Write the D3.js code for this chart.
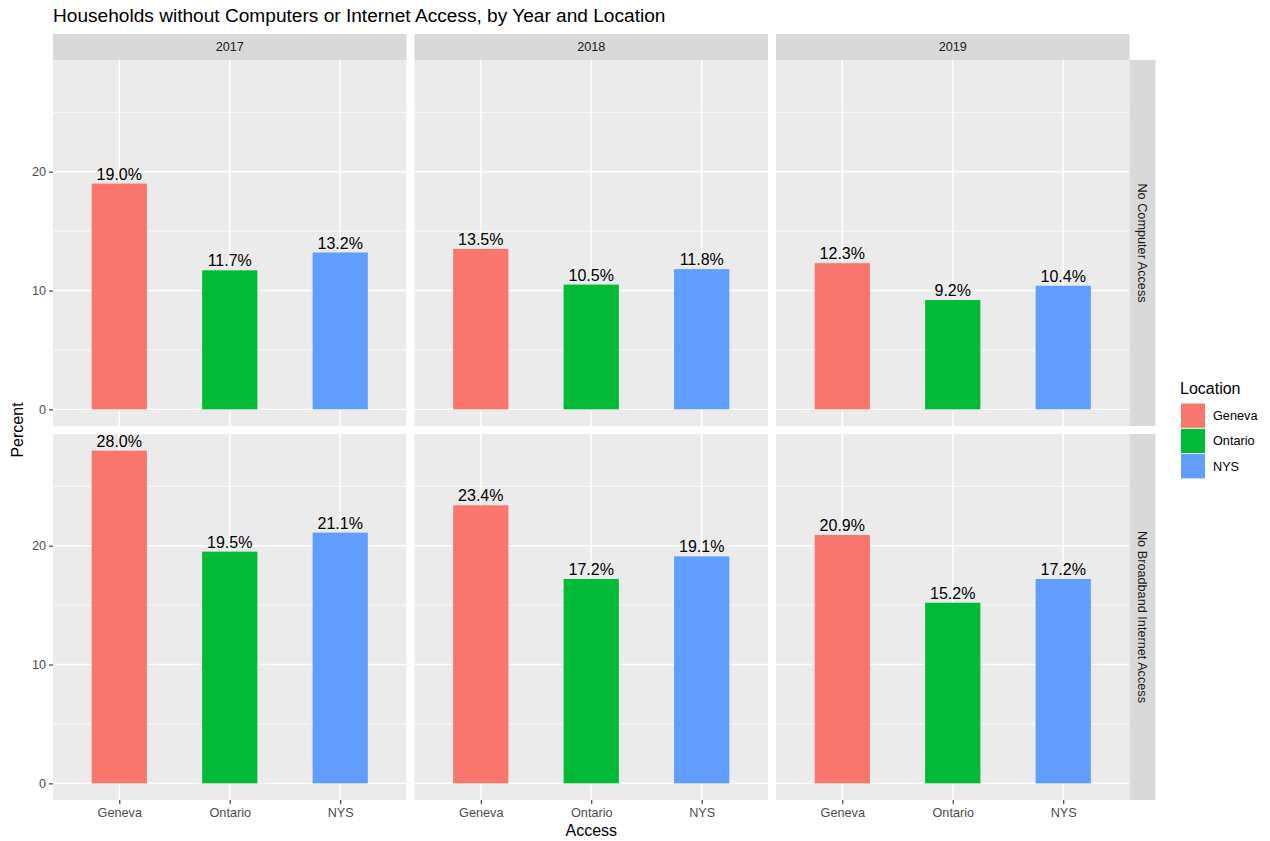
<!DOCTYPE html>
<html>
<head>
<meta charset="utf-8">
<script src="https://cdn.jsdelivr.net/npm/d3@7"></script>
<style>
  body { margin: 0; background: #fff; }
  text { font-family: "Liberation Sans", Arial, Helvetica, sans-serif; }
</style>
</head>
<body>
<script>
// chart data
var years = ["2017", "2018", "2019"];
var measures = ["No Computer Access", "No Broadband Internet Access"];
var locations = ["Geneva", "Ontario", "NYS"];
var colors = ["#F8766D", "#00BA38", "#619CFF"];

// one array per measure, one row per year, values in location order
var noComputer = [
  [19.0, 11.7, 13.2],
  [13.5, 10.5, 11.8],
  [12.3, 9.2, 10.4]
];
var noBroadband = [
  [28.0, 19.5, 21.1],
  [23.4, 17.2, 19.1],
  [20.9, 15.2, 17.2]
];
var yTicks = [0, 10, 20];
var yMinor = [5, 15, 25];

var valuesByMeasure = [noComputer, noBroadband];

var width = 1270, height = 841;
var plotLeft = 53, plotTop = 60;
var panelW = 353.5, panelH = 366, gap = 8, stripH = 26;
var smallFont = "12.7px", bigFont = "16px";

var svg = d3.select("body").append("svg")
    .attr("width", width)
    .attr("height", height);

// fixed scales shared by every panel, with ggplot's expansion
var yMax = 28.0;
var y = d3.scaleLinear()
    .domain([-0.05 * yMax, yMax * 1.05])
    .range([panelH, 0]);

var x = d3.scalePoint()
    .domain(locations)
    .range([0, panelW])
    .padding(0.6);

var barW = x.step() * 0.5;
var color = d3.scaleOrdinal().domain(locations).range(colors);

svg.append("text")
    .attr("x", plotLeft)
    .attr("y", 22)
    .style("font-size", "19.1px")
    .style("fill", "#000")
    .text("Households without Computers or Internet Access, by Year and Location");

measures.forEach(function(m, r) {
  years.forEach(function(yr, c) {
    var px = plotLeft + c * (panelW + gap);
    var py = plotTop + r * (panelH + gap);
    var g = svg.append("g").attr("transform", "translate(" + px + "," + py + ")");

    g.append("rect")
        .attr("width", panelW)
        .attr("height", panelH)
        .style("fill", "#EBEBEB");

    g.selectAll(".minor")
      .data(yMinor)
      .enter().append("line")
        .attr("x1", 0).attr("x2", panelW)
        .attr("y1", function(d) { return y(d); })
        .attr("y2", function(d) { return y(d); })
        .style("stroke", "#fff")
        .style("stroke-width", 0.7);

    g.selectAll(".major")
      .data(yTicks)
      .enter().append("line")
        .attr("x1", 0).attr("x2", panelW)
        .attr("y1", function(d) { return y(d); })
        .attr("y2", function(d) { return y(d); })
        .style("stroke", "#fff")
        .style("stroke-width", 1.4);

    g.selectAll(".vgrid")
      .data(locations)
      .enter().append("line")
        .attr("x1", function(d) { return x(d); })
        .attr("x2", function(d) { return x(d); })
        .attr("y1", 0).attr("y2", panelH)
        .style("stroke", "#fff")
        .style("stroke-width", 1.4);

    var vals = valuesByMeasure[r][c];

    g.selectAll(".bar")
      .data(vals)
      .enter().append("rect")
        .attr("x", function(d, i) { return x(locations[i]) - barW / 2; })
        .attr("y", function(d) { return y(d); })
        .attr("width", barW)
        .attr("height", function(d) { return y(0) - y(d); })
        .style("fill", function(d, i) { return color(locations[i]); });

    g.selectAll(".lbl")
      .data(vals)
      .enter().append("text")
        .attr("x", function(d, i) { return x(locations[i]); })
        .attr("y", function(d) { return y(d) - 4; })
        .attr("text-anchor", "middle")
        .style("font-size", bigFont)
        .style("fill", "#000")
        .text(function(d) { return d.toFixed(1) + "%"; });

    // top strips
    if (r == 0) {
      svg.append("rect")
          .attr("x", px).attr("y", plotTop - stripH)
          .attr("width", panelW).attr("height", stripH)
          .style("fill", "#D9D9D9");
      svg.append("text")
          .attr("x", px + panelW / 2)
          .attr("y", plotTop - stripH / 2)
          .attr("dy", "0.35em")
          .attr("text-anchor", "middle")
          .style("font-size", smallFont)
          .style("fill", "#1A1A1A")
          .text(yr);
    }

    // right strips
    if (c == years.length - 1) {
      svg.append("rect")
          .attr("x", px + panelW).attr("y", py)
          .attr("width", stripH).attr("height", panelH)
          .style("fill", "#D9D9D9");
      svg.append("text")
          .attr("transform", "translate(" + (px + panelW + stripH / 2) + "," + (py + panelH / 2) + ") rotate(90)")
          .attr("dy", "0.35em")
          .attr("text-anchor", "middle")
          .style("font-size", smallFont)
          .style("fill", "#1A1A1A")
          .text(m);
    }

    // y axis on first column
    if (c == 0) {
      var ya = svg.append("g")
          .attr("transform", "translate(" + px + "," + py + ")")
          .call(d3.axisLeft(y).tickValues(yTicks).tickSize(4).tickPadding(3));
      ya.select(".domain").remove();
      ya.selectAll("line").style("stroke", "#333").style("stroke-width", 1.1);
      ya.selectAll("text").style("font-size", smallFont).style("fill", "#4D4D4D")
          .style("font-family", "Liberation Sans, Arial, sans-serif");
    }

    // x axis on bottom row
    if (r == measures.length - 1) {
      var xa = svg.append("g")
          .attr("transform", "translate(" + px + "," + (py + panelH) + ")")
          .call(d3.axisBottom(x).tickSize(4).tickPadding(4));
      xa.select(".domain").remove();
      xa.selectAll("line").style("stroke", "#333").style("stroke-width", 1.1);
      xa.selectAll("text").style("font-size", smallFont).style("fill", "#4D4D4D")
          .style("font-family", "Liberation Sans, Arial, sans-serif");
    }
  });
});

var plotBottom = plotTop + 2 * panelH + gap;
var plotRight = plotLeft + 3 * panelW + 2 * gap;

svg.append("text")
    .attr("x", (plotLeft + plotRight) / 2)
    .attr("y", 836)
    .attr("text-anchor", "middle")
    .style("font-size", bigFont)
    .style("fill", "#000")
    .text("Access");

svg.append("text")
    .attr("transform", "translate(23," + ((plotTop + plotBottom) / 2) + ") rotate(-90)")
    .attr("text-anchor", "middle")
    .style("font-size", bigFont)
    .style("fill", "#000")
    .text("Percent");

// legend
var legend = svg.append("g").attr("transform", "translate(1180,0)");

legend.append("text")
    .attr("x", 0)
    .attr("y", 394)
    .style("font-size", bigFont)
    .style("fill", "#000")
    .text("Location");

var keys = legend.selectAll(".key")
    .data(locations)
  .enter().append("g")
    .attr("transform", function(d, i) { return "translate(0," + (403 + i * 25.3) + ")"; });

keys.append("rect")
    .attr("x", 1).attr("y", 0.5)
    .attr("width", 24).attr("height", 24.3)
    .style("fill", function(d) { return color(d); });

keys.append("text")
    .attr("x", 33)
    .attr("y", 12.6)
    .attr("dy", "0.35em")
    .style("font-size", smallFont)
    .style("fill", "#000")
    .text(function(d) { return d; });
</script>
</body>
</html>
